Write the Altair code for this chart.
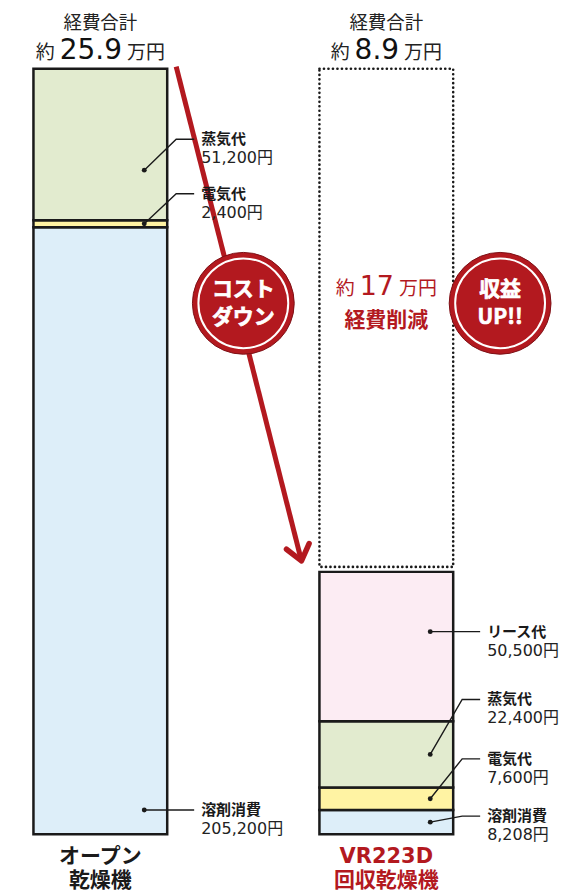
import math
import altair as alt
import pandas as pd

# ---------------- data ----------------
machine_line1 = ["オープン", "VR223D"]
machine_line2 = ["乾燥機", "回収乾燥機"]
items_open = ["溶剤消費", "電気代", "蒸気代"]
values_open = [205200, 2400, 51200]
items_vr = ["溶剤消費", "電気代", "蒸気代", "リース代"]
values_vr = [8208, 7600, 22400, 50500]
total_man_yen = ["25.9", "8.9"]
saving_man_yen = "17"
title_text = "経費合計"
saving_caption = "経費削減"
badge_cost = ["コスト", "ダウン"]
badge_profit = ["収益", "UP!!"]

item_order = ["溶剤消費", "電気代", "蒸気代", "リース代"]
item_colors = ["#ddeef9", "#fff3a3", "#e2ebcf", "#fcecf3"]

RED = "#b3191f"
INK = "#1a1a1a"
JP = "Noto Sans CJK JP"
MIX = "DejaVu Sans, Noto Sans CJK JP"
NUM = "DejaVu Sans"

# ---------------- layout ----------------
W, H = 551, 876
BASE_PX, TOP_PX = 827, 60
UNIT, X0 = 286.5, 92.5
total_open = sum(values_open)
total_vr = sum(values_vr)
ppy = total_open / (BASE_PX - TOP_PX)
y_scale = alt.Scale(domain=[-(H - BASE_PX) * ppy, total_open + TOP_PX * ppy], nice=False, zero=False)
x_scale = alt.Scale(domain=[-X0 / UNIT, (W - X0) / UNIT], nice=False, zero=False)
HW = 67 / UNIT


def ux(px):
    return px / UNIT


def uy(px):  # px downward -> value delta
    return -px * ppy


def xpix(u):
    return X0 + u * UNIT


def ypix(v):
    return BASE_PX - v / ppy


def XY(x="x", y="y"):
    return dict(
        x=alt.X(f"{x}:Q", scale=x_scale, axis=None),
        y=alt.Y(f"{y}:Q", scale=y_scale, axis=None),
    )


# ---------------- bars ----------------
bar_rows = []
for i, (its, vals) in enumerate([(items_open, values_open), (items_vr, values_vr)]):
    cum = 0
    for it, v in zip(its, vals):
        bar_rows.append({"machine": i, "item": it, "value": v, "y": cum, "y2": cum + v,
                         "x": i - HW, "x2": i + HW})
        cum += v
bars_df = pd.DataFrame(bar_rows)

bars = alt.Chart(bars_df).mark_rect(stroke=INK, strokeWidth=2.5).encode(
    x2="x2:Q", y2="y2:Q",
    color=alt.Color("item:N", scale=alt.Scale(domain=item_order, range=item_colors), legend=None),
    **XY(),
)

saving_df = pd.DataFrame([{"x": 1 - HW, "x2": 1 + HW, "y": total_vr, "y2": total_open}])
dotted = alt.Chart(saving_df).mark_rect(
    fill="white", fillOpacity=0, stroke=INK, strokeWidth=2.6,
    strokeDash=[0.1, 4.4], strokeCap="round", yOffset=-5,
).encode(x2="x2:Q", y2="y2:Q", **XY())

# ---------------- arrow ----------------
sx, sy = xpix(0 + HW + ux(9)), ypix(total_open + 2 * ppy)
tx, ty = xpix(1 - HW - ux(18)), ypix(total_vr + 11 * ppy)
L = math.hypot(tx - sx, ty - sy)
dx, dy = (tx - sx) / L, (ty - sy) / L
arm = 19
ang = math.radians(38)
arrow_rows = [
    {"key": "shaft", "ord": 0, "px": sx, "py": sy},
    {"key": "shaft", "ord": 1, "px": tx, "py": ty},
]
for k, a in enumerate([ang, -ang]):
    rx = dx * math.cos(a) - dy * math.sin(a)
    ry = dx * math.sin(a) + dy * math.cos(a)
    arrow_rows.append({"key": "head", "ord": 0 if k == 0 else 2, "px": tx - arm * rx, "py": ty - arm * ry})
arrow_rows.append({"key": "head", "ord": 1, "px": tx, "py": ty})
arrow_df = pd.DataFrame(arrow_rows)
arrow_df["x"] = (arrow_df["px"] - X0) / UNIT
arrow_df["y"] = (BASE_PX - arrow_df["py"]) * ppy

shaft = alt.Chart(arrow_df[arrow_df.key == "shaft"]).mark_line(
    color=RED, strokeWidth=5, strokeCap="butt").encode(order="ord:Q", **XY())
head = alt.Chart(arrow_df[arrow_df.key == "head"]).mark_line(
    color=RED, strokeWidth=5.5, strokeCap="round", strokeJoin="round").encode(order="ord:Q", **XY())

# ---------------- leader lines + labels ----------------
annots = [
    (0, "蒸気代", 0.33, -31),
    (0, "電気代", 0.5, -30),
    (0, "溶剤消費", 0.04, 0),
    (1, "リース代", 0.6, 0),
    (1, "蒸気代", 0.5, -55),
    (1, "電気代", 0.5, -40),
    (1, "溶剤消費", 0.5, -6),
]
line_rows, dot_rows, lab_rows = [], [], []
for k, (i, it, frac, dpx) in enumerate(annots):
    r = bars_df[(bars_df.machine == i) & (bars_df.item == it)].iloc[0]
    ydot = r.y + frac * r.value
    ylab = ydot + uy(dpx)
    edge = i + HW
    pts = [(edge - ux(23), ydot), (edge + ux(9), ylab), (edge + ux(27), ylab)]
    for o, (px_, py_) in enumerate(pts):
        line_rows.append({"key": k, "ord": o, "x": px_, "y": py_})
    dot_rows.append({"x": edge - ux(23), "y": ydot})
    lab_rows.append({"x": edge + ux(34), "y": ylab, "name": it, "amount": f"{int(r.value):,}円"})
line_df = pd.DataFrame(line_rows)
dot_df = pd.DataFrame(dot_rows)
lab_df = pd.DataFrame(lab_rows)

leaders = alt.Chart(line_df).mark_line(color=INK, strokeWidth=1.4).encode(
    detail="key:N", order="ord:Q", **XY())
dots = alt.Chart(dot_df).mark_circle(size=24, color=INK, opacity=1).encode(**XY())

name_txt = alt.Chart(lab_df).mark_text(
    font=JP, fontSize=15, fontWeight="bold", align="left", baseline="middle", color=INK
).encode(text="name:N", **XY())
amt_txt = alt.Chart(lab_df).mark_text(
    font=MIX, fontSize=16, align="left", baseline="middle", dy=19, color="#222"
).encode(text="amount:N", **XY())


# ---------------- titles ----------------
def num_w(s, fs):
    return fs * sum(0.318 if c in ".," else 0.636 for c in s)


def amount_rows(xc, y, num, fs_small, fs_big, gap):
    nw = num_w(num, fs_big)
    tot = fs_small + gap + nw + gap + 2 * fs_small
    start = -tot / 2
    return (
        {"x": xc + ux(start + fs_small), "y": y, "t": "約"},
        {"x": xc + ux(start + fs_small + gap + nw / 2), "y": y, "t": num},
        {"x": xc + ux(start + fs_small + gap + nw + gap), "y": y, "t": "万円"},
    )


ttl_rows = [{"x": i, "y": total_open, "t": title_text} for i in range(2)]
pre_rows, num_rows, suf_rows = [], [], []
for i in range(2):
    a, b, c = amount_rows(i, total_open, total_man_yen[i], 19, 28, 5)
    pre_rows.append(a); num_rows.append(b); suf_rows.append(c)

title1 = alt.Chart(pd.DataFrame(ttl_rows)).mark_text(
    font=JP, fontSize=18.5, color="#222", baseline="middle", dy=-46).encode(text="t:N", **XY())
pre = alt.Chart(pd.DataFrame(pre_rows)).mark_text(
    font=JP, fontSize=19, color="#222", align="right", baseline="alphabetic", dy=-10).encode(text="t:N", **XY())
numt = alt.Chart(pd.DataFrame(num_rows)).mark_text(
    font=NUM, fontSize=28, color="#111", align="center", baseline="alphabetic", dy=-10).encode(text="t:N", **XY())
suf = alt.Chart(pd.DataFrame(suf_rows)).mark_text(
    font=JP, fontSize=19, color="#222", align="left", baseline="alphabetic", dy=-10).encode(text="t:N", **XY())

# ---------------- saving text ----------------
mid = (total_vr + total_open) / 2
sa, sb, sc = amount_rows(1, mid, saving_man_yen, 19, 27, 5)
s_pre = alt.Chart(pd.DataFrame([sa])).mark_text(
    font=JP, fontSize=19, color=RED, align="right", baseline="alphabetic", dy=-25).encode(text="t:N", **XY())
s_num = alt.Chart(pd.DataFrame([sb])).mark_text(
    font=NUM, fontSize=27, color=RED, align="center", baseline="alphabetic", dy=-25).encode(text="t:N", **XY())
s_suf = alt.Chart(pd.DataFrame([sc])).mark_text(
    font=JP, fontSize=19, color=RED, align="left", baseline="alphabetic", dy=-25).encode(text="t:N", **XY())
s_cap = alt.Chart(pd.DataFrame([{"x": 1, "y": mid, "t": saving_caption}])).mark_text(
    font=JP, fontSize=21, fontWeight="bold", color=RED, baseline="middle", dy=1).encode(text="t:N", **XY())

# ---------------- badges ----------------
cy = mid + 17 * ppy
badge_df = pd.DataFrame([
    {"x": 0.5, "y": cy, "top": badge_cost[0], "bot": badge_cost[1]},
    {"x": 1 + ux(114), "y": cy, "top": badge_profit[0], "bot": badge_profit[1]},
])
disc = alt.Chart(badge_df).mark_point(
    shape="circle", size=4 * 51 ** 2, filled=True, fill=RED, fillOpacity=1,
    stroke="#7d1016", strokeWidth=1, opacity=1).encode(**XY())
ring = alt.Chart(badge_df).mark_point(
    shape="circle", size=4 * 45 ** 2, filled=False, stroke="white", strokeWidth=2, opacity=1).encode(**XY())
bkw = dict(font=JP, fontSize=21, fontWeight="bold", baseline="middle",
           fill="white", stroke="white", strokeWidth=0.7)
b_top = alt.Chart(badge_df).mark_text(dy=-13, **bkw).encode(text="top:N", **XY())
b_bot = alt.Chart(badge_df).mark_text(dy=15, **bkw).encode(text="bot:N", **XY())

# ---------------- machine names ----------------
mach_df = pd.DataFrame([
    {"x": i, "y": 0, "l1": machine_line1[i], "l2": machine_line2[i], "col": INK if i == 0 else RED}
    for i in range(2)
])
m1 = alt.Chart(mach_df).mark_text(font=MIX, fontSize=21, fontWeight="bold", baseline="middle", dy=23).encode(
    text="l1:N", color=alt.Color("col:N", scale=None), **XY())
m2 = alt.Chart(mach_df).mark_text(font=MIX, fontSize=21, fontWeight="bold", baseline="middle", dy=47).encode(
    text="l2:N", color=alt.Color("col:N", scale=None), **XY())

chart = alt.layer(
    bars, dotted, shaft, head, leaders, dots,
    name_txt, amt_txt,
    title1, pre, numt, suf,
    s_pre, s_num, s_suf, s_cap,
    disc, ring, b_top, b_bot,
    m1, m2,
).properties(width=W, height=H, padding=0).configure_view(stroke=None)

chart.save("out.html", embed_options={"renderer": "svg", "actions": False})
